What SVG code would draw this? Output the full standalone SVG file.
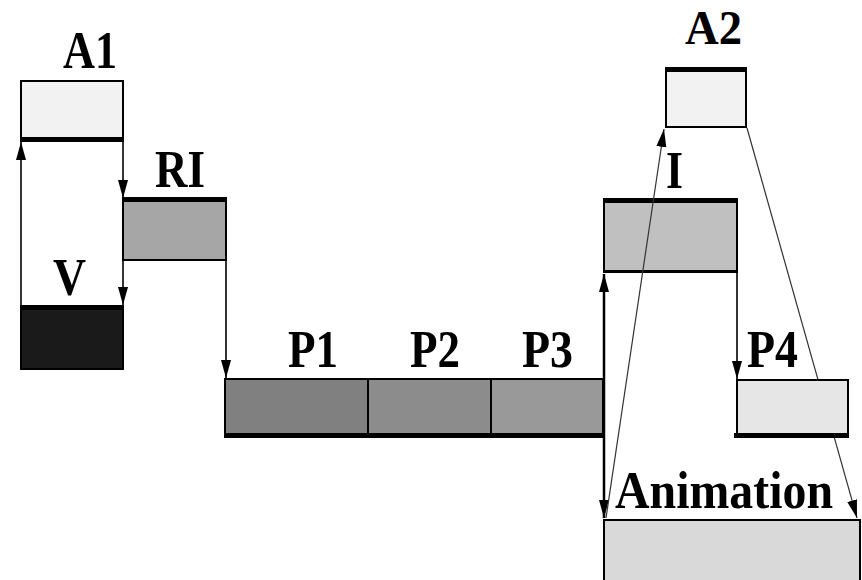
<svg xmlns="http://www.w3.org/2000/svg" width="862" height="580" viewBox="0 0 862 580">
  <defs>
    <style>
      .box { stroke: #000; stroke-width: 2; }
      .edge { stroke: #000; stroke-width: 5; fill: none; }
      .lbl { font-family: "Liberation Serif", "Times New Roman", serif; font-weight: bold; font-size: 53px; fill: #000; }
      .conn { stroke: #000; stroke-width: 1.6; fill: none; }
      .diag { stroke: #333; stroke-width: 1.2; fill: none; }
    </style>
    <marker id="head" markerUnits="userSpaceOnUse" markerWidth="20" markerHeight="12" refX="18" refY="5" orient="auto-start-reverse">
      <path d="M0,0 L18,5 L0,10 Z" fill="#000"/>
    </marker>
  </defs>
  <rect width="862" height="580" fill="#fff"/>

  <!-- audio segment A1 -->
  <g id="A1">
    <rect class="box" x="21" y="81" width="102" height="58" fill="#f2f2f2"/>
    <line class="edge" x1="20" y1="139.5" x2="124" y2="139.5"/>
    <text class="lbl" x="63" y="68" textLength="54" lengthAdjust="spacingAndGlyphs">A1</text>
  </g>

  <!-- RI segment -->
  <g id="RI">
    <rect class="box" x="123" y="200" width="103" height="60" fill="#a6a6a6"/>
    <line class="edge" x1="122" y1="199.5" x2="227" y2="199.5"/>
    <text class="lbl" x="155" y="187" textLength="50" lengthAdjust="spacingAndGlyphs">RI</text>
  </g>

  <!-- video segment V -->
  <g id="V">
    <rect class="box" x="21" y="307" width="102" height="62" fill="#1a1a1a"/>
    <line class="edge" x1="20" y1="307.5" x2="124" y2="307.5"/>
    <text class="lbl" x="53" y="295" textLength="33" lengthAdjust="spacingAndGlyphs">V</text>
  </g>

  <!-- presentation segments P1 to P3 -->
  <g id="P1">
    <rect class="box" x="225" y="379" width="143" height="56" fill="#808080"/>
    <text class="lbl" x="288" y="367" textLength="50" lengthAdjust="spacingAndGlyphs">P1</text>
  </g>
  <g id="P2">
    <rect class="box" x="368" y="379" width="123" height="56" fill="#8c8c8c"/>
    <text class="lbl" x="410" y="367" textLength="50" lengthAdjust="spacingAndGlyphs">P2</text>
  </g>
  <g id="P3">
    <rect class="box" x="491" y="379" width="112" height="56" fill="#999999"/>
    <text class="lbl" x="522" y="367" textLength="51" lengthAdjust="spacingAndGlyphs">P3</text>
  </g>
  <line class="edge" x1="224" y1="435.5" x2="604" y2="435.5"/>

  <!-- interaction segment I -->
  <g id="I">
    <rect class="box" x="604" y="201" width="133" height="71" fill="#c0c0c0"/>
    <line class="edge" x1="603" y1="200.5" x2="738" y2="200.5"/>
    <line class="edge" x1="603" y1="271.5" x2="738" y2="271.5" style="stroke-width:3"/>
    <text class="lbl" x="666" y="188" textLength="17" lengthAdjust="spacingAndGlyphs">I</text>
  </g>

  <!-- audio segment A2 -->
  <g id="A2">
    <rect class="box" x="666" y="70" width="80" height="57" fill="#f2f2f2"/>
    <line class="edge" x1="665" y1="69.5" x2="747" y2="69.5"/>
    <text class="lbl" x="685" y="44" style="font-size:48px" textLength="57" lengthAdjust="spacingAndGlyphs">A2</text>
  </g>

  <!-- timeline connectors -->
  <g id="connectors">
    <line class="conn" x1="21" y1="305" x2="21" y2="142" marker-end="url(#head)"/>
    <line class="conn" x1="123" y1="141" x2="123" y2="198" marker-end="url(#head)"/>
    <line class="conn" x1="123" y1="260" x2="123" y2="305" marker-end="url(#head)"/>
    <line class="conn" x1="226" y1="260" x2="226" y2="378" marker-end="url(#head)"/>
    <line class="conn" x1="737" y1="272" x2="737" y2="379" marker-end="url(#head)"/>
    <line class="conn" x1="604" y1="274" x2="604" y2="518" style="stroke-width:2.5" marker-start="url(#head)" marker-end="url(#head)"/>
    <line class="diag" x1="606" y1="518" x2="664" y2="129" marker-end="url(#head)"/>
    <line class="diag" x1="747" y1="128" x2="857" y2="518" marker-end="url(#head)"/>
  </g>

  <!-- presentation segment P4 -->
  <g id="P4">
    <rect class="box" x="737" y="380" width="111" height="55" fill="#e6e6e6"/>
    <line class="edge" x1="734" y1="435.5" x2="849" y2="435.5"/>
    <text class="lbl" x="747" y="367" textLength="51" lengthAdjust="spacingAndGlyphs">P4</text>
  </g>

  <!-- animation segment -->
  <g id="Animation">
    <rect class="box" x="604" y="520" width="256" height="62" fill="#d9d9d9"/>
    <text class="lbl" x="615" y="508" textLength="218" lengthAdjust="spacingAndGlyphs">Animation</text>
  </g>
</svg>
